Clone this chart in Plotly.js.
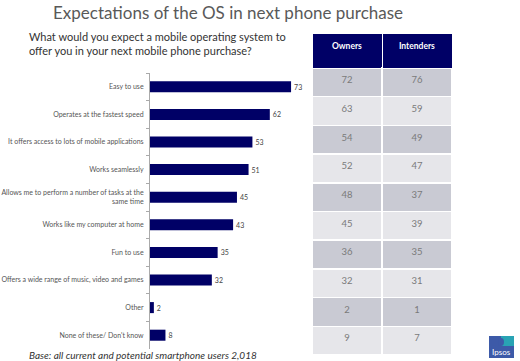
<!DOCTYPE html>
<html><head><meta charset="utf-8">
<script src="https://cdn.plot.ly/plotly-3.0.1.min.js"></script>
<style>body{margin:0;background:#fff}#chart{width:520px;height:361px}</style>
</head><body><div id="chart"></div>
<script>
var categories = ["Easy to use","Operates at the fastest speed","It offers access to lots of mobile applications","Works seamlessly","Allows me to perform a number of tasks at the<br>same time","Works like my computer at home","Fun to use","Offers a wide range of music, video and games","Other","None of these/ Don't know"];
var totalValues = [73,62,53,51,45,43,35,32,2,8];
var ownersValues = [72,63,54,52,48,45,36,32,2,9];
var intendersValues = [76,59,49,47,37,39,35,31,1,7];
var tableHeaders = ["<b>Owners</b>","<b>Intenders</b>"];

var FONT = "Lato, 'Open Sans', sans-serif";
var rowFills = categories.map(function(c,i){return i%2===0 ? '#c9cad3' : '#e6e6ea';});

var bar = {
  type:'bar', orientation:'h', x: totalValues, y: categories,
  marker:{color:'#000066'}, text: totalValues.map(String), textposition:'outside',
  textfont:{family:FONT,size:7,color:'#444'}, cliponaxis:false, hoverinfo:'none'
};
var table = {
  type:'table', domain:{x:[312/520,452/520], y:[0, 1-33/361]},
  columnwidth:[1,1],
  header:{values: tableHeaders, fill:{color:'#000066'}, line:{color:'#ffffff',width:1},
    font:{family:FONT,size:8.5,color:'#ffffff'}, height:35, align:'center'},
  cells:{values:[ownersValues, intendersValues], fill:{color:[rowFills,rowFills]},
    line:{color:'#ffffff',width:1.5}, font:{family:FONT,size:9.5,color:'#7a7a7a'}, height:28.7, align:'center'}
};
var layout = {
  width:520, height:361, margin:{l:0,r:0,t:0,b:0}, paper_bgcolor:'#fff', plot_bgcolor:'#fff',
  showlegend:false, bargap:0.6,
  font:{family:FONT},
  xaxis:{domain:[150/520, 304.6/520], range:[0,80], visible:false, fixedrange:true},
  yaxis:{domain:[1-349/361, 1-73/361], autorange:'reversed', showline:true, linecolor:'#aaaaaa', linewidth:1,
    ticks:'outside', ticklen:3, tickcolor:'#aaaaaa', tickson:'boundaries', showgrid:false, ticklabelstandoff:4,
    tickfont:{family:FONT,size:7,color:'#555'}, automargin:false},
  annotations:[
    {text:'Expectations of the OS in next phone purchase', xref:'paper', yref:'paper', x:228/520, y:1-12/361,
     xanchor:'center', yanchor:'middle', showarrow:false, font:{family:FONT,size:17,color:'#595959'}},
    {text:'What would you expect a mobile operating system to<br>offer you in your next mobile phone purchase?', xref:'paper', yref:'paper',
     x:27/520, y:1-44/361, xanchor:'left', yanchor:'middle', align:'left', showarrow:false, font:{family:FONT,size:11,color:'#333'}},
    {text:'<i>Base: all current and potential smartphone users 2,018</i>', xref:'paper', yref:'paper', x:27/520, y:1-355/361,
     xanchor:'left', yanchor:'middle', showarrow:false, font:{family:FONT,size:10,color:'#333'}},
    {text:'Ipsos', xref:'paper', yref:'paper', x:501/520, y:1-352/361, xanchor:'center', yanchor:'middle', showarrow:false,
     font:{family:FONT,size:8,color:'#ffffff'}}
  ],
  shapes:[
    {type:'rect', xref:'paper', yref:'paper', x0:489/520, x1:514/520, y0:1-358/361, y1:1-336/361, fillcolor:'#3d5aa8', line:{width:0}},
    {type:'rect', xref:'paper', yref:'paper', x0:501/520, x1:514/520, y0:1-346/361, y1:1-336/361, fillcolor:'#29a3b4', line:{width:0}},
    {type:'circle', xref:'paper', yref:'paper', x0:498/520, x1:504/520, y0:1-346/361, y1:1-338/361, fillcolor:'#3d5aa8', line:{width:0}}
  ]
};
Plotly.newPlot('chart',[bar,table],layout,{displayModeBar:false,staticPlot:true});
</script></body></html>
